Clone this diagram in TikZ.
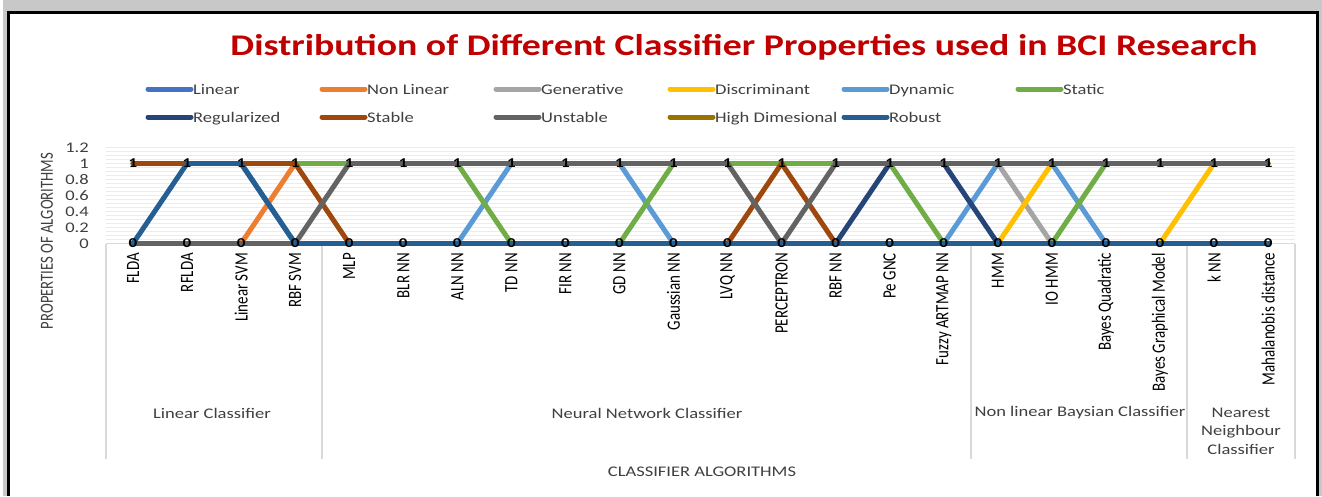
\documentclass[tikz,border=0pt]{standalone}
\usepackage{fontspec}
\setmainfont{Carlito}[FakeStretch=1.26]
\newfontfamily\narrowfont[FakeStretch=0.794]{Carlito}
\usetikzlibrary{positioning}
\def\xzero{78.95}
\def\xstep{54.05}
\def\yzero{243.5}
\def\yone{163.5}
\definecolor{blue1}{RGB}{68,114,196}
\definecolor{orange1}{RGB}{237,125,49}
\definecolor{gray1}{RGB}{165,165,165}
\definecolor{yellow1}{RGB}{255,192,0}
\definecolor{blue2}{RGB}{91,155,213}
\definecolor{green1}{RGB}{112,173,71}
\definecolor{navy1}{RGB}{38,68,120}
\definecolor{brown1}{RGB}{158,72,14}
\definecolor{gray2}{RGB}{99,99,99}
\definecolor{olive1}{RGB}{153,115,0}
\definecolor{blue3}{RGB}{37,94,145}
\definecolor{red1}{RGB}{192,0,0}
\definecolor{gray3}{RGB}{217,217,217}
\definecolor{gray4}{RGB}{236,236,236}
\definecolor{gray5}{RGB}{200,200,200}
\definecolor{gray6}{RGB}{64,64,64}

% one line of the chart, values 1/0, -1 = no value
\newcommand{\series}[2]{%
  \foreach \v [count=\i, remember=\v as \pv (initially -1)] in {#2}{%
    \pgfmathtruncatemacro\pj{\i-1}%
    \ifnum\v>-1 \ifnum\pv>-1 \draw[serie,#1] (p\pj-\pv) -- (p\i-\v);\fi\fi
  }%
}

\begin{document}
\begin{tikzpicture}[x=1pt,y=-1pt,
	serie/.style={line width=5pt,line cap=round,line join=round},
	catlab/.style={rotate=90,anchor=east,inner sep=0pt,font=\narrowfont\fontsize{18.8}{22}\selectfont},
	datalab/.style={inner sep=0pt,font=\bfseries\fontsize{13.5}{16}\selectfont},
	ticklab/.style={anchor=east,inner sep=0pt,text=gray6,font=\fontsize{14.7}{17}\selectfont},
	grplab/.style={align=center,text=gray6,font=\fontsize{14.7}{18.5}\selectfont},
	leglab/.style={anchor=base west,inner sep=0pt,text=gray6,font=\fontsize{14.7}{17}\selectfont}]

	\useasboundingbox (0,0) rectangle (1322,496);

	%%% Frame
	\fill[gray5] (3,0) rectangle (1322,496);
	\fill[white] (8.5,12.5) rectangle (1317.5,496);
	\draw[black,line width=2.5pt] (8.5,496) -- (8.5,12.5) -- (1317.5,12.5) -- (1317.5,496);

	%%% Title
	\node[text=red1,font=\bfseries\fontsize{30}{36}\selectfont] (title) at (744,47) {Distribution of Different Classifier Properties used in BCI Research};

	%%% Legend
	\foreach \lab/\col/\c/\r in {Linear/blue1/0/0, Non Linear/orange1/1/0, Generative/gray1/2/0, Discriminant/yellow1/3/0, Dynamic/blue2/4/0, Static/green1/5/0,
		Regularized/navy1/0/1, Stable/brown1/1/1, Unstable/gray2/2/1, High Dimesional/olive1/3/1, Robust/blue3/4/1}{
		\draw[serie,\col] ({148+174*\c},{89+28*\r}) -- ({191+174*\c},{89+28*\r});
		\node[leglab] (leg-\c-\r) at ({193+174*\c},{94+28*\r}) {\lab};
	}

	%%% Gridlines
	\foreach \k in {0,...,24}
		\draw[gray4,line width=0.8pt] (106,{\yzero-4*\k}) -- (1295,{\yzero-4*\k});
	\foreach \t in {0,0.2,0.4,0.6,0.8,1,1.2}
		\node[ticklab] (tick-\t) at (89,{\yzero-80*\t}) {\t};

	%%% Category axis and groups
	\draw[gray3,line width=1.2pt] (106,\yzero) -- (1295,\yzero);
	\foreach \g in {0.5,4.5,16.5,20.5,22.5}
		\draw[gray3,line width=1.5pt] ({\xzero+\xstep*\g},\yzero) -- ({\xzero+\xstep*\g},459);
	\node[grplab] (grp1) at (212,413) {Linear Classifier};
	\node[grplab] (grp2) at (647,413) {Neural Network Classifier};
	\node[grplab] (grp3) at (1080,413) {Non linear Baysian Classifier};
	\node[grplab] (grp4) at (1241,431) {Nearest\\Neighbour\\Classifier};

	%%% Points
	\foreach \i in {1,...,22}{
		\coordinate (p\i-0) at ({\xzero+\xstep*\i},\yzero);
		\coordinate (p\i-1) at ({\xzero+\xstep*\i},\yone);
	}
	\foreach \lab [count=\i] in {FLDA,RFLDA,Linear SVM,RBF SVM,MLP,BLR NN,ALN NN,TD NN,FIR NN,GD NN,Gaussian NN,LVQ NN,PERCEPTRON,RBF NN,Pe GNC,Fuzzy ARTMAP NN,HMM,IO HMM,Bayes Quadratic,Bayes Graphical Model,k NN,Mahalanobis distance}
		\node[catlab] (cat\i) at ({\xzero+\xstep*\i},253) {\lab};

	%%% Series
	\series{blue1}{1,1,1,0,0,0,0,0,0,0,0,0,0,0,0,0,0,0,0,0,0,0}
	\series{orange1}{0,0,0,1,1,1,1,1,1,1,1,1,1,1,1,1,1,1,1,1,1,1}
	\series{gray1}{1,1,1,1,1,1,1,1,1,1,1,1,1,1,1,1,1,0,0,0,0,0}
	\series{yellow1}{0,0,0,0,0,0,0,0,0,0,0,0,0,0,0,0,0,1,-1,0,1,1}
	\series{blue2}{0,0,0,0,0,0,0,1,1,1,0,0,0,0,0,0,1,1,0,0,0,0}
	\series{green1}{1,1,1,1,1,1,1,0,0,0,1,1,1,1,1,0,0,0,1,1,1,1}
	\series{navy1}{0,0,0,0,0,0,0,0,0,0,0,0,0,0,1,1,0,0,0,0,0,0}
	\series{brown1}{1,1,1,1,0,0,0,0,0,0,0,0,1,0,0,0,0,0,0,0,0,0}
	\series{gray2}{0,0,0,0,1,1,1,1,1,1,1,1,0,1,1,1,1,1,1,1,1,1}
	\series{blue3}{0,1,1,0,0,0,0,0,0,0,0,0,0,0,0,0,0,0,0,0,0,0}

	%%% Data labels
	\foreach \i in {1,...,22}{
		\node[datalab] (one\i) at (p\i-1) {1};
		\node[datalab] (zero\i) at (p\i-0) {0};
	}

	%%% Axis titles
	\node[rotate=90,text=gray6,font=\narrowfont\fontsize{18.5}{22}\selectfont] (ytitle) at (47,241) {PROPERTIES OF ALGORITHMS};
	\node[text=gray6,font=\fontsize{14.7}{17}\selectfont] (xtitle) at (702,472) {CLASSIFIER ALGORITHMS};

\end{tikzpicture}
\end{document}
